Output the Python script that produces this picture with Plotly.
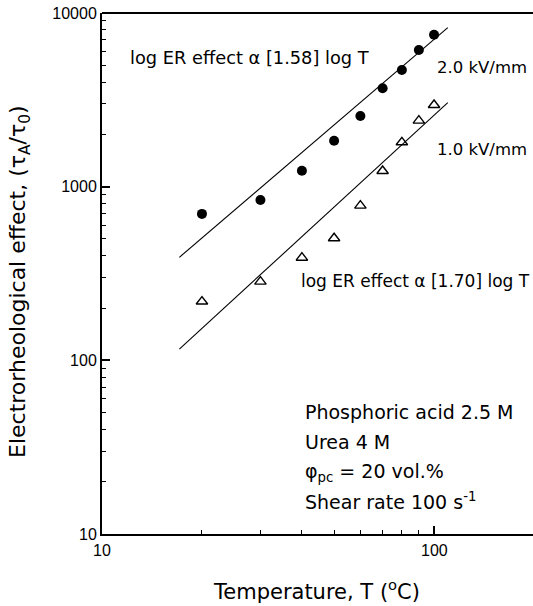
import math
import plotly.graph_objects as go

# ---- data ----
temperature = [20, 30, 40, 50, 60, 70, 80, 90, 100]
er_2kv = [697, 838, 1236, 1840, 2553, 3686, 4698, 6124, 7500]
er_1kv = [218, 284, 390, 505, 778, 1231, 1801, 2399, 2953]

fit_T = [17.1, 110]
fit_2kv = [392, 8230]
fit_1kv = [116, 3045]

x_major = [10, 100]
x_labels = ["10", "100"]
x_minor = [20, 30, 40, 50, 60, 70, 80, 90]
y_major = [10, 100, 1000, 10000]
y_minor = [v * m for v in (10, 100, 1000) for m in range(2, 10)]

FONT = "Liberation Sans, Arial, sans-serif"
TFONT = "DejaVu Sans, sans-serif"

fig = go.Figure()
fig.add_trace(go.Scatter(x=fit_T, y=fit_2kv, mode="lines",
                         line=dict(color="black", width=1.1), showlegend=False))
fig.add_trace(go.Scatter(x=fit_T, y=fit_1kv, mode="lines",
                         line=dict(color="black", width=1.1), showlegend=False))
fig.add_trace(go.Scatter(x=temperature, y=er_2kv, mode="markers",
                         marker=dict(symbol="circle", size=10, color="black"),
                         showlegend=False))
fig.add_trace(go.Scatter(x=temperature, y=er_1kv, mode="markers",
                         marker=dict(symbol="triangle-up-open", size=10, color="black",
                                     line=dict(width=1.4, color="black")),
                         showlegend=False))

W, H = 533, 606
L, R, T, B = 102, 0, 13, 72
pw, ph = W - L - R, H - T - B

def px(x):
    return (x - L) / pw

def py(y):
    return (H - B - y) / ph

anns = [
    ("log ER effect \u03b1 [1.58] log T", 128, 57, 17.8, "left"),
    ("2.0 kV/mm", 435, 67, 16.5, "left"),
    ("1.0 kV/mm", 435, 150, 16.5, "left"),
    ("log ER effect \u03b1 [1.70] log T", 532, 281, 17, "right"),
    ("Phosphoric acid 2.5 M", 303, 412, 19, "left"),
    ("Urea 4 M", 303, 442, 19, "left"),
    ("\u03c6<sub>pc</sub> = 20 vol.%", 303, 472, 19, "left"),
    ("Shear rate 100 s<sup>-1</sup>", 303, 501, 19, "left"),
]
for text, x, y, s, anc in anns:
    fig.add_annotation(x=px(x), y=py(y), xref="paper", yref="paper", text=text,
                       showarrow=False, xanchor=anc, yanchor="middle",
                       font=dict(family=TFONT, size=s, color="black"))

# x tick labels (placed on the log axis through its own coordinates)
for v, lab in zip(x_major, x_labels):
    fig.add_annotation(x=math.log10(v), xref="x", y=py(550), yref="paper", text=lab,
                       showarrow=False, xanchor="center", yanchor="middle",
                       font=dict(family=FONT, size=16, color="black"))

fig.add_annotation(x=px(316), y=py(590), xref="paper", yref="paper",
                   text="Temperature, T (<sup>o</sup>C)", showarrow=False,
                   xanchor="center", yanchor="middle",
                   font=dict(family=TFONT, size=21, color="black"))
fig.add_annotation(x=px(19), y=py(282), xref="paper", yref="paper",
                   text="Electrorheological effect, (\u03c4<sub>A</sub>/\u03c4<sub>0</sub>)",
                   showarrow=False, textangle=-90, xanchor="center", yanchor="middle",
                   font=dict(family=TFONT, size=22, color="black"))

# top frame line
fig.add_shape(type="line", xref="paper", yref="paper", x0=0, x1=1, y0=1, y1=1,
              line=dict(color="black", width=2))

fig.update_xaxes(type="log", range=[1, 2.298], showline=True, linecolor="black",
                 linewidth=2, mirror=False, showgrid=False, zeroline=False,
                 tickmode="array", tickvals=x_major, showticklabels=False,
                 ticks="inside", ticklen=8, tickwidth=1.5, tickcolor="black",
                 minor=dict(tickmode="array", tickvals=x_minor, ticks="inside", ticklen=4,
                            tickwidth=1, tickcolor="black", showgrid=False))
fig.update_yaxes(type="log", range=[1, 4], showline=True, linecolor="black",
                 linewidth=2, mirror=False, showgrid=False, zeroline=False,
                 tickmode="array", tickvals=y_major, ticktext=[str(v) for v in y_major],
                 ticks="inside", ticklen=8, tickwidth=1.5, tickcolor="black",
                 tickfont=dict(family=FONT, size=16, color="black"),
                 minor=dict(tickmode="array", tickvals=y_minor, ticks="inside", ticklen=4,
                            tickwidth=1, tickcolor="black", showgrid=False))

fig.update_layout(width=W, height=H, margin=dict(l=L, r=R, t=T, b=B),
                  plot_bgcolor="white", paper_bgcolor="white",
                  font=dict(family=FONT, color="black"), showlegend=False)

fig.write_html("out.html")
